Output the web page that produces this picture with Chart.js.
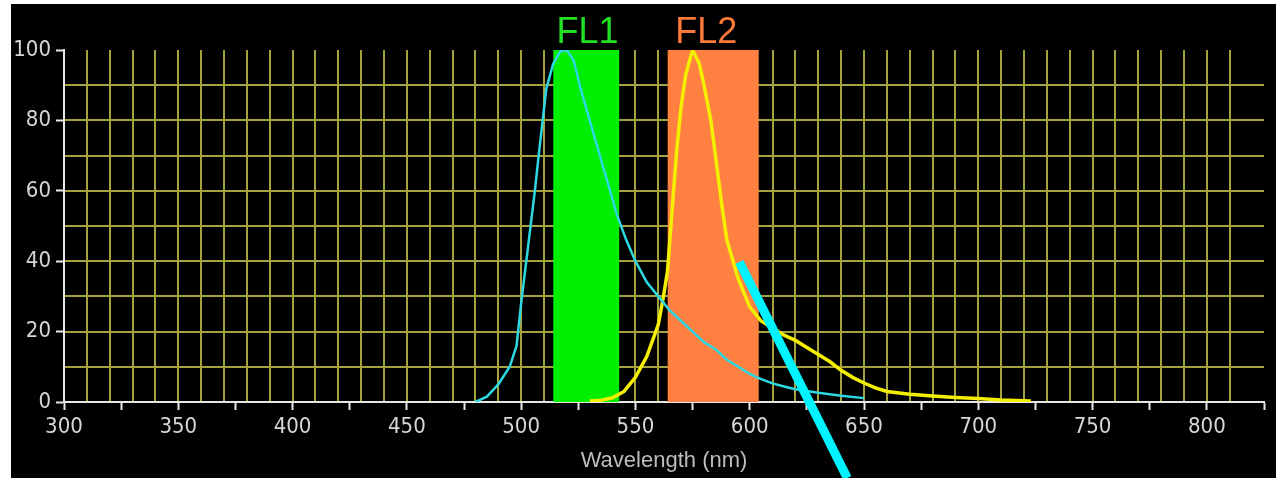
<!DOCTYPE html>
<html>
<head>
<meta charset="utf-8">
<script src="https://cdn.jsdelivr.net/npm/chart.js@4/dist/chart.umd.min.js"></script>
<style>
  html, body { margin: 0; padding: 0; background: #ffffff; }
  #wrap { position: absolute; left: 11px; top: 4px; width: 1265px; height: 474px; background: #000000; }
</style>
</head>
<body>
<div id="wrap"><canvas id="spectrum" width="1265" height="474"></canvas></div>
<script>
// Emission spectra (wavelength nm, relative intensity %)
const cyanNm  = [480, 485, 490, 495, 498, 500, 503, 506, 508, 511, 514, 517, 520, 523, 526, 530, 534, 538, 542, 546, 550, 555, 560, 565, 570, 575, 580, 585, 590, 595, 600, 605, 610, 615, 620, 630, 640, 650];
const cyanVal = [0, 1.5, 5, 10, 16, 28, 44, 60, 72, 89, 96, 99.5, 100, 97, 89, 80, 71, 62, 53, 46, 40, 34, 30, 26, 23, 20, 17, 15, 12, 10, 8, 6.5, 5.3, 4.4, 3.6, 2.6, 1.8, 1.1];

const yellowNm  = [530, 535, 540, 545, 550, 555, 560, 562, 564, 566, 568, 570, 572, 575, 578, 580, 583, 585, 588, 590, 595, 600, 605, 610, 615, 620, 625, 630, 635, 640, 645, 650, 655, 660, 670, 680, 690, 700, 710, 723];
const yellowVal = [0.3, 0.5, 1.2, 3, 7, 13, 22, 29, 37, 54, 71, 84, 93, 100, 96, 90, 80, 70, 55, 46, 35, 27, 23, 21, 19, 17.5, 15.5, 13.5, 11.5, 9, 7, 5.4, 4, 3, 2.2, 1.7, 1.3, 1, 0.6, 0.3];

// Filter bands
const bandNames  = ['FL1', 'FL2'];
const bandFrom   = [514, 564];
const bandTo     = [543, 604];
const bandLabelAt = [529, 581];

// Pointer line (nm, %)
const pointerNm  = [595.5, 642.7];
const pointerVal = [39.8, -21.6];

// Axis ticks
const xMin = 300, xMax = 825, xStep = 25, xGridStep = 10;
const yMin = 0, yMax = 100, yStep = 20, yGridStep = 10;

const toPoints = (xs, ys) => xs.map((x, i) => ({ x: x, y: ys[i] }));

const bandColors = ['#00ee00', '#ff8040'];
const bandTextColors = ['#22e022', '#ff7a38'];

const tickFont = { family: "'DejaVu Sans Condensed', sans-serif", size: 22, lineHeight: 1 };

const bandLabels = {
    id: 'bandLabels',
    afterDraw(chart) {
        const c = chart.ctx;
        const xs = chart.scales.x;
        c.save();
        c.font = "36px 'Liberation Sans', Arial, sans-serif";
        c.textAlign = 'center';
        c.textBaseline = 'alphabetic';
        bandNames.forEach((name, i) => {
            c.fillStyle = bandTextColors[i];
            c.fillText(name, xs.getPixelForValue(bandLabelAt[i]), chart.chartArea.top - 7);
        });
        c.restore();
    }
};

const bandSets = bandNames.map((name, i) => ({
    label: name,
    data: toPoints([bandFrom[i], bandTo[i]], [yMax, yMax]),
    borderWidth: 0,
    borderColor: bandColors[i],
    backgroundColor: bandColors[i],
    fill: 'origin',
    pointRadius: 0,
    order: 4 + i
}));

new Chart(document.getElementById('spectrum'), {
    type: 'line',
    data: {
        datasets: [
            {
                label: 'pointer',
                data: toPoints(pointerNm, pointerVal),
                borderColor: '#00f4ff',
                borderWidth: 9,
                borderCapStyle: 'butt',
                pointRadius: 0,
                clip: false,
                order: 0
            },
            {
                label: 'FITC',
                data: toPoints(cyanNm, cyanVal),
                borderColor: '#2cd8e2',
                borderWidth: 2.5,
                pointRadius: 0,
                tension: 0,
                order: 1
            },
            {
                label: 'PE',
                data: toPoints(yellowNm, yellowVal),
                borderColor: '#f4ee00',
                borderWidth: 3.5,
                pointRadius: 0,
                tension: 0,
                order: 2
            },
            ...bandSets
        ]
    },
    options: {
        responsive: false,
        animation: false,
        layout: { padding: { top: 46, right: 12, left: 0, bottom: 0 } },
        plugins: { legend: { display: false }, tooltip: { enabled: false } },
        scales: {
            x: {
                type: 'linear',
                position: 'bottom',
                min: xMin, max: xMax,
                ticks: {
                    stepSize: xStep,
                    color: '#d6d6d6',
                    font: tickFont,
                    padding: 6,
                    maxRotation: 0,
                    autoSkip: false,
                    callback: v => (v % 50 === 0 ? String(v) : '')
                },
                grid: { drawOnChartArea: false, color: '#e8e8e8', tickLength: 8, tickWidth: 2 },
                border: { color: '#e8e8e8', width: 2 },
                title: {
                    display: true,
                    text: 'Wavelength (nm)',
                    color: '#bdbdbd',
                    font: { family: "'Liberation Sans', Arial, sans-serif", size: 22, lineHeight: 1 },
                    padding: { top: 0, bottom: 6 }
                },
                afterFit: s => { s.height = 76; }
            },
            xGrid: {
                type: 'linear',
                position: 'top',
                min: xMin, max: xMax,
                ticks: { display: false, stepSize: xGridStep },
                grid: {
                    drawTicks: false,
                    lineWidth: 2,
                    color: ctx => (ctx.tick && (ctx.tick.value === xMin || ctx.tick.value === xMax) ? 'rgba(0,0,0,0)' : '#a6a23e')
                },
                border: { display: false },
                afterFit: s => { s.height = 0; }
            },
            y: {
                type: 'linear',
                position: 'left',
                min: yMin, max: yMax,
                ticks: { stepSize: yStep, color: '#d6d6d6', font: tickFont, padding: 5 },
                grid: { drawOnChartArea: false, color: '#e8e8e8', tickLength: 8, tickWidth: 2 },
                border: { color: '#e8e8e8', width: 2 },
                afterFit: s => { s.width = 53; }
            },
            yGrid: {
                type: 'linear',
                position: 'right',
                min: yMin, max: yMax,
                ticks: { display: false, stepSize: yGridStep },
                grid: {
                    drawTicks: false,
                    lineWidth: 2,
                    color: ctx => (ctx.tick && (ctx.tick.value === yMin || ctx.tick.value === yMax) ? 'rgba(0,0,0,0)' : '#a6a23e')
                },
                border: { display: false },
                afterFit: s => { s.width = 0; }
            }
        }
    },
    plugins: [bandLabels]
});
</script>
</body>
</html>
